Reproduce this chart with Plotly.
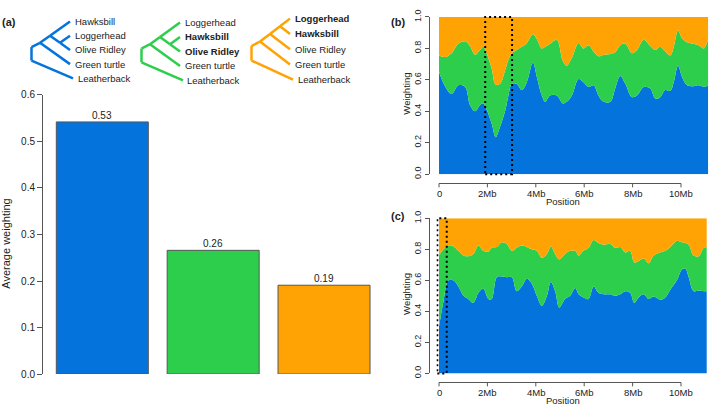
import plotly.graph_objects as go

W, H = 709, 411
FONT = "Liberation Sans, Arial, Helvetica, sans-serif"
TXT = "#222222"
AX = "#555555"

# ---------------- data ----------------
topology_colors = ["#0473DB", "#2DCE4C", "#FFA305"]
avg_weight = [0.542, 0.266, 0.191]
avg_labels = ["0.53", "0.26", "0.19"]
avg_ticks = [0.0, 0.1, 0.2, 0.3, 0.4, 0.5, 0.6]

tree_topologies = [
    ((("Hawksbill", ("Loggerhead", "Olive Ridley")), "Green turtle"), "Leatherback"),
    ((("Loggerhead", ("Hawksbill", "Olive Ridley")), "Green turtle"), "Leatherback"),
    (((("Loggerhead", "Hawksbill"), "Olive Ridley"), "Green turtle"), "Leatherback"),
]
tree_bold = [[], ["Hawksbill", "Olive Ridley"], ["Loggerhead", "Hawksbill"]]

# panel (b): positions in Mb and weighting of the three topologies
b_pos = [0, 0.25, 0.52, 0.80, 1.08, 1.28, 1.49, 1.70, 1.83, 1.97,
         2.18, 2.34, 2.52, 2.73, 2.87, 3.01, 3.21, 3.42, 3.63, 3.88,
         4.04, 4.25, 4.39, 4.59, 4.87, 5.12, 5.28, 5.49, 5.77, 5.97,
         6.18, 6.39, 6.59, 6.80, 7.08, 7.28, 7.49, 7.70, 7.97, 8.18,
         8.46, 8.73, 8.94, 9.14, 9.35, 9.56, 9.70, 9.88, 10.04, 10.25,
         10.52, 10.73, 10.94, 11.14]
b_topo1 = [0.65, 0.56, 0.51, 0.565, 0.555, 0.44, 0.40, 0.44, 0.45, 0.41,
           0.32, 0.235, 0.30, 0.40, 0.50, 0.575, 0.575, 0.535, 0.585, 0.71,
           0.62, 0.50, 0.46, 0.50, 0.50, 0.45, 0.46, 0.50, 0.605, 0.585,
           0.555, 0.565, 0.50, 0.46, 0.46, 0.545, 0.625, 0.575, 0.49, 0.50,
           0.555, 0.545, 0.48, 0.49, 0.535, 0.53, 0.585, 0.69, 0.62, 0.565,
           0.56, 0.565, 0.555, 0.565]
b_topo2 = [0.105, 0.185, 0.26, 0.265, 0.29, 0.375, 0.36, 0.35, 0.36, 0.36,
           0.35, 0.335, 0.275, 0.26, 0.23, 0.195, 0.215, 0.275, 0.25, 0.18,
           0.24, 0.30, 0.35, 0.33, 0.355, 0.27, 0.23, 0.24, 0.23, 0.215,
           0.265, 0.215, 0.25, 0.30, 0.305, 0.23, 0.195, 0.255, 0.28, 0.29,
           0.30, 0.27, 0.31, 0.32, 0.245, 0.225, 0.225, 0.225, 0.245, 0.275,
           0.27, 0.255, 0.245, 0.305]
b_topo3 = [0.245, 0.255, 0.23, 0.17, 0.155, 0.185, 0.24, 0.21, 0.19, 0.23,
           0.33, 0.43, 0.425, 0.34, 0.27, 0.23, 0.21, 0.19, 0.165, 0.11,
           0.14, 0.20, 0.19, 0.17, 0.145, 0.28, 0.31, 0.26, 0.165, 0.20,
           0.18, 0.22, 0.25, 0.24, 0.235, 0.225, 0.18, 0.17, 0.23, 0.21,
           0.145, 0.185, 0.21, 0.19, 0.22, 0.245, 0.19, 0.085, 0.135, 0.16,
           0.17, 0.18, 0.20, 0.13]
b_box = [1.91, 3.02]

# panel (c)
c_pos = [0, 0.18, 0.39, 0.59, 0.80, 1.01, 1.21, 1.42, 1.63, 1.83,
         2.04, 2.18, 2.39, 2.59, 2.80, 3.01, 3.21, 3.42, 3.63, 3.83,
         4.04, 4.25, 4.46, 4.62, 4.80, 4.97, 5.21, 5.42, 5.63, 5.77,
         5.97, 6.18, 6.39, 6.59, 6.80, 7.08, 7.28, 7.49, 7.70, 7.90,
         8.07, 8.25, 8.46, 8.66, 8.87, 9.14, 9.35, 9.56, 9.83, 10.04,
         10.18, 10.32, 10.52, 10.73, 10.94, 11.08]
c_topo1 = [0.30, 0.46, 0.60, 0.60, 0.56, 0.50, 0.48, 0.455, 0.52, 0.545,
           0.48, 0.48, 0.62, 0.625, 0.62, 0.62, 0.53, 0.56, 0.61, 0.58,
           0.50, 0.435, 0.50, 0.59, 0.53, 0.425, 0.48, 0.50, 0.55, 0.51,
           0.49, 0.48, 0.56, 0.52, 0.51, 0.51, 0.50, 0.51, 0.53, 0.52,
           0.455, 0.49, 0.51, 0.48, 0.495, 0.475, 0.49, 0.54, 0.60, 0.67,
           0.675, 0.62, 0.53, 0.535, 0.53, 0.53]
c_topo2 = [0.46, 0.34, 0.225, 0.22, 0.23, 0.26, 0.275, 0.315, 0.305, 0.245,
           0.305, 0.33, 0.195, 0.22, 0.215, 0.17, 0.28, 0.265, 0.205, 0.22,
           0.29, 0.31, 0.27, 0.23, 0.24, 0.31, 0.29, 0.29, 0.24, 0.25,
           0.30, 0.33, 0.30, 0.32, 0.32, 0.325, 0.31, 0.305, 0.25, 0.27,
           0.26, 0.235, 0.23, 0.23, 0.265, 0.305, 0.30, 0.275, 0.255, 0.175,
           0.165, 0.21, 0.23, 0.22, 0.28, 0.285]
c_topo3 = [0.24, 0.20, 0.175, 0.18, 0.21, 0.24, 0.245, 0.23, 0.175, 0.21,
           0.215, 0.19, 0.185, 0.155, 0.165, 0.21, 0.19, 0.175, 0.185, 0.20,
           0.21, 0.255, 0.23, 0.18, 0.23, 0.265, 0.23, 0.21, 0.21, 0.24,
           0.21, 0.19, 0.14, 0.16, 0.17, 0.165, 0.19, 0.185, 0.22, 0.21,
           0.285, 0.275, 0.26, 0.29, 0.24, 0.22, 0.21, 0.185, 0.145, 0.155,
           0.16, 0.17, 0.24, 0.245, 0.19, 0.185]
c_box = [-0.07, 0.32]

pos_tickvals = [0, 2, 4, 6, 8, 10]
pos_ticktext = ["0", "2Mb", "4Mb", "6Mb", "8Mb", "10Mb"]
w_tickvals = [0, 0.2, 0.4, 0.6, 0.8, 1.0]


# ---------------- helpers ----------------
def px(x):
    return x / W


def py(y):
    return 1 - y / H


shapes = []
annotations = []


def text(x, y, s, size, xanchor="center", yanchor="middle", angle=0, bold=False):
    annotations.append(dict(
        x=px(x), y=py(y), xref="paper", yref="paper", showarrow=False,
        text=f"<b>{s}</b>" if bold else s, xanchor=xanchor, yanchor=yanchor,
        textangle=angle, borderpad=0,
        font=dict(family=FONT, size=size, color=TXT)))


def tips(node):
    if isinstance(node, str):
        return [node]
    return tips(node[0]) + tips(node[1])


def draw_tree(topo, color, T, y0, dy, bold):
    order = tips(topo)
    row = {n: i for i, n in enumerate(order)}
    c = 20.0

    def rng(node):
        r = [row[n] for n in tips(node)]
        return min(r), max(r)

    def xy(node):
        if isinstance(node, str):
            return T + (3 if node == order[-1] else 0), y0 + row[node] * dy
        a, b = rng(node)
        return T - c * (b - a) / 2, y0 + (a + b) / 2 * dy

    def seg(x0, ya, x1, yb):
        shapes.append(dict(type="line", xref="paper", yref="paper",
                           x0=px(x0), y0=py(ya), x1=px(x1), y1=py(yb),
                           line=dict(color=color, width=2.5), layer="above"))

    def rec(node):
        if isinstance(node, str):
            return
        nx, ny = xy(node)
        for ch in node:
            cx, cy = xy(ch)
            seg(nx, ny, cx, cy)
            rec(ch)

    inner, outer = topo
    rx = T - 2 * c + 1.5
    top_y, bot_y = y0 + 1.8 * dy, y0 + 2.75 * dy
    seg(rx, top_y, rx, bot_y)
    ix, iy = xy(inner)
    seg(rx, top_y, ix, iy)
    rec(inner)
    lx, ly = xy(outer)
    seg(rx, bot_y, lx, ly)
    for n in order:
        x, y = xy(n)
        text(x + 3.5, y, n, 9.5, xanchor="left", bold=(n in bold))


# ---------------- figure ----------------
fig = go.Figure()

# (a) bar chart
fig.add_trace(go.Bar(
    x=[0, 1, 2], y=avg_weight, width=0.83,
    marker=dict(color=topology_colors, line=dict(color=AX, width=1)),
    xaxis="x", yaxis="y", hoverinfo="skip", showlegend=False))
for i, (v, lab) in enumerate(zip(avg_weight, avg_labels)):
    annotations.append(dict(x=i, y=v, xref="x", yref="y", text=lab, showarrow=False,
                            yanchor="bottom", yshift=0, borderpad=0,
                            font=dict(family=FONT, size=10, color=TXT)))

# (b) and (c) stacked areas
for pos, series, xa, ya in [(b_pos, [b_topo1, b_topo2, b_topo3], "x2", "y2"),
                            (c_pos, [c_topo1, c_topo2, c_topo3], "x3", "y3")]:
    for vals, col in zip(series, topology_colors):
        fig.add_trace(go.Scatter(
            x=pos, y=vals, mode="lines", stackgroup=xa,
            line=dict(width=0, shape="spline", color=col), fillcolor=col,
            xaxis=xa, yaxis=ya, hoverinfo="skip", showlegend=False))

# layout geometry (pixels)
MB = 24.2            # px per Mb
X0 = 439             # px of position 0
b_top, b_bot = 9.3, 172
c_top, c_bot = 217.7, 378.3
b_right, c_right = 708.1, 706.7
xr0 = -0.1

layout = dict(
    width=W, height=H, margin=dict(l=0, r=0, t=0, b=0),
    paper_bgcolor="white", plot_bgcolor="white", showlegend=False,
    bargap=0, hovermode=False,
    xaxis=dict(domain=[px(43), px(383)], range=[-0.535, 2.532], visible=False, anchor="y"),
    yaxis=dict(domain=[py(379), py(90)], range=[0, 0.6], anchor="x",
               showline=True, linecolor=AX, linewidth=1, ticks="outside", ticklen=5,
               tickcolor=AX, showgrid=False, zeroline=False,
               tickvals=avg_ticks, tickformat=".1f",
               tickfont=dict(family=FONT, size=10, color=TXT)),
)

for n, (top, bot, right, pos_ax) in zip(
        ["2", "3"], [(b_top, b_bot, b_right, 181.7), (c_top, c_bot, c_right, 387.7)]):
    layout["xaxis" + n] = dict(
        domain=[px(X0 + xr0 * MB), px(right)], range=[xr0, (right - X0) / MB],
        anchor="y" + n, showline=False, showgrid=False, zeroline=False,
        ticks="", showticklabels=False)
    layout["yaxis" + n] = dict(
        domain=[py(bot), py(top)], range=[0, 1], anchor="free", position=px(429),
        showline=True, linecolor=AX, linewidth=1, ticks="outside", ticklen=4,
        tickcolor=AX, showgrid=False, zeroline=False, tickangle=-90,
        tickvals=w_tickvals, tickformat=".1f",
        tickfont=dict(family=FONT, size=9, color=TXT))
    # R-style x axis: line from first to last tick, tick marks and labels
    shapes.append(dict(type="line", xref="x" + n, yref="paper",
                       x0=pos_tickvals[0], x1=pos_tickvals[-1],
                       y0=py(pos_ax), y1=py(pos_ax), line=dict(color=AX, width=1)))
    for tv, tt in zip(pos_tickvals, pos_ticktext):
        shapes.append(dict(type="line", xref="x" + n, yref="paper",
                           x0=tv, x1=tv, y0=py(pos_ax), y1=py(pos_ax + 4),
                           line=dict(color=AX, width=1)))
        annotations.append(dict(x=tv, y=py(pos_ax + 10), xref="x" + n, yref="paper",
                                text=tt, showarrow=False, xanchor="center",
                                yanchor="middle", borderpad=0,
                                font=dict(family=FONT, size=9.5, color=TXT)))
    text(407, (top + bot) / 2 - 2, "Weighting", 9.5, angle=-90)
    text(563, pos_ax + 18.5, "Position", 9.5)

# dotted highlight boxes
for n, box, top, bot in [("2", b_box, b_top, b_bot), ("3", c_box, c_top, c_bot)]:
    shapes.append(dict(type="rect", xref="x" + n, yref="paper",
                       x0=box[0], x1=box[1], y0=py(bot), y1=py(top),
                       line=dict(color="black", width=2, dash="2px,3px"),
                       fillcolor="rgba(0,0,0,0)", layer="above"))

# trees
for k, (topo, col, bold) in enumerate(zip(tree_topologies, topology_colors, tree_bold)):
    T = 70 + 110 * k
    y0, dy = [(14, 14.7), (15, 15.0), (11, 15.8)][k]
    draw_tree(topo, col, T, y0, dy, bold)

# titles and panel letters
text(6, 244, "Average weighting", 11, angle=-90)
text(1, 15, "(a)", 11, xanchor="left", bold=True)
text(390, 15, "(b)", 11, xanchor="left", bold=True)
text(390, 215, "(c)", 11, xanchor="left", bold=True)

layout["shapes"] = shapes
layout["annotations"] = annotations
fig.update_layout(**layout)
fig.write_html("out.html", config={"displayModeBar": False, "staticPlot": True},
               post_script="document.body.style.margin='0';document.body.style.overflow='hidden';")
